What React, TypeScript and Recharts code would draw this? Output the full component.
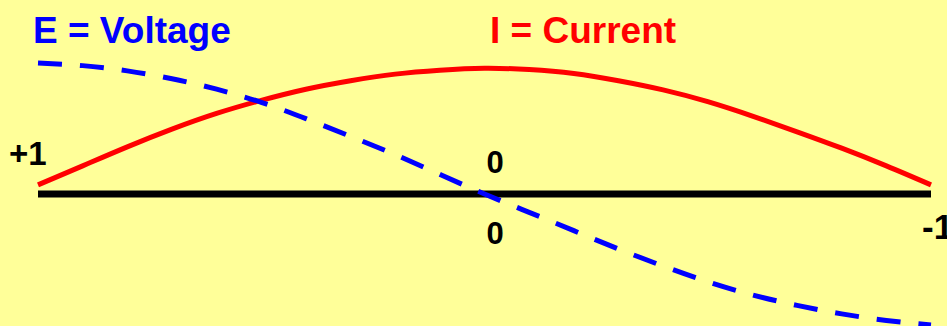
import { LineChart, Line, XAxis, YAxis, ReferenceLine, Customized } from "recharts";

// 21 evenly spaced samples across the axis, values scaled so the voltage swings +1..-1
const steps = [0, 1, 2, 3, 4, 5, 6, 7, 8, 9, 10, 11, 12, 13, 14, 15, 16, 17, 18, 19, 20];
const voltage = [
  1.0, 0.98, 0.94, 0.88, 0.8, 0.7, 0.575, 0.44, 0.3, 0.15, 0, -0.14, -0.28, -0.42, -0.55, -0.67,
  -0.77, -0.85, -0.915, -0.965, -1.0,
];
const current = [
  0.07, 0.215, 0.36, 0.495, 0.615, 0.715, 0.8, 0.865, 0.915, 0.945, 0.96, 0.95, 0.92, 0.865,
  0.795, 0.705, 0.595, 0.475, 0.35, 0.215, 0.07,
];

const WIDTH = 947;
const HEIGHT = 326;
const BG = "#FFFF99";
const FONT = "'Liberation Sans', Arial, Helvetica, sans-serif";

const data = steps.map((s, i) => ({ step: s, voltage: voltage[i], current: current[i] }));

function Labels() {
  return (
    <g fontFamily={FONT} fontWeight="bold">
      <text x={33} y={43} fontSize={37} fill="#0000FF">
        E = Voltage
      </text>
      <text x={490} y={43} fontSize={37} fill="#FF0000">
        I = Current
      </text>
      <text x={9} y={165} fontSize={33} fill="#000">
        +1
      </text>
      <text x={495} y={173} fontSize={31} fill="#000" textAnchor="middle">
        0
      </text>
      <text x={495} y={244} fontSize={31} fill="#000" textAnchor="middle">
        0
      </text>
      <text x={922} y={239} fontSize={35} fill="#000">
        -1
      </text>
    </g>
  );
}

export default function App() {
  return (
    <div style={{ width: WIDTH, height: HEIGHT, background: BG, overflow: "hidden" }}>
      <style>{"body{margin:0;}"}</style>
      <LineChart
        width={WIDTH}
        height={HEIGHT}
        data={data}
        margin={{ top: 63, right: 16, bottom: 1, left: 38 }}
      >
        <XAxis dataKey="step" type="number" domain={[0, 20]} hide />
        <YAxis type="number" domain={[-1, 1]} hide />
        <ReferenceLine y={0} stroke="#000" strokeWidth={7} ifOverflow="visible" />
        <Line
          type="natural"
          dataKey="current"
          stroke="#FF0000"
          strokeWidth={5}
          dot={false}
          activeDot={false}
          isAnimationActive={false}
        />
        <Line
          type="natural"
          dataKey="voltage"
          stroke="#0000FF"
          strokeWidth={5}
          strokeDasharray="24 18"
          dot={false}
          activeDot={false}
          isAnimationActive={false}
        />
        <Customized component={Labels} />
      </LineChart>
    </div>
  );
}
